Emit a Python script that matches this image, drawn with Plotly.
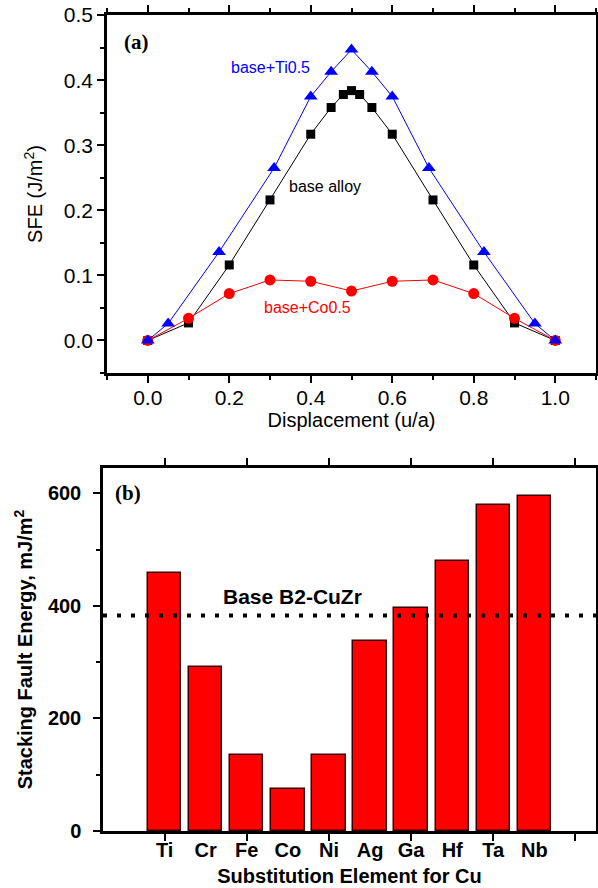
import plotly.graph_objects as go

# ---------- Panel (a) data ----------
base_x = [0.0, 0.1, 0.2, 0.3, 0.4, 0.45, 0.48, 0.5, 0.52, 0.55, 0.6, 0.7, 0.8, 0.9, 1.0]
base_y = [0.0, 0.027, 0.116, 0.216, 0.317, 0.358, 0.378, 0.384, 0.378, 0.358, 0.317, 0.216, 0.116, 0.027, 0.0]

ti_x = [0.0, 0.05, 0.175, 0.31, 0.4, 0.45, 0.5, 0.55, 0.6, 0.69, 0.825, 0.95, 1.0]
ti_y = [0.0, 0.026, 0.136, 0.265, 0.375, 0.413, 0.447, 0.413, 0.375, 0.265, 0.136, 0.026, 0.0]

co_x = [0.0, 0.1, 0.2, 0.3, 0.4, 0.5, 0.6, 0.7, 0.8, 0.9, 1.0]
co_y = [0.0, 0.034, 0.072, 0.093, 0.091, 0.076, 0.091, 0.093, 0.072, 0.034, 0.0]

# ---------- Panel (b) data ----------
elements = ["Ti", "Cr", "Fe", "Co", "Ni", "Ag", "Ga", "Hf", "Ta", "Nb"]
sfe_values = [458, 292, 135, 75, 135, 337, 397, 479, 579, 596]
base_sfe = 383

x_ticks_a = [0.0, 0.2, 0.4, 0.6, 0.8, 1.0]
y_ticks_a = [0.0, 0.1, 0.2, 0.3, 0.4, 0.5]
y_ticks_b = [0, 200, 400, 600]

FONT = "Liberation Sans, Arial, sans-serif"
SERIF = "Liberation Serif, Times New Roman, serif"

# page body margin is removed (see post_script), so the figure fills the window
W, H = 598, 888


def fx(px):
    return px / W


def fy(py):
    return 1 - py / H


fig = go.Figure()

# Panel (a)
fig.add_trace(go.Scatter(x=base_x, y=base_y, mode="lines+markers",
                         line=dict(color="black", width=1),
                         marker=dict(symbol="square", size=9, color="black"),
                         xaxis="x", yaxis="y", cliponaxis=False))
fig.add_trace(go.Scatter(x=co_x, y=co_y, mode="lines+markers",
                         line=dict(color="#ff0000", width=1),
                         marker=dict(symbol="circle", size=11, color="#ff0000"),
                         xaxis="x", yaxis="y", cliponaxis=False))
fig.add_trace(go.Scatter(x=ti_x, y=ti_y, mode="lines+markers",
                         line=dict(color="#0000ff", width=1),
                         marker=dict(symbol="triangle-up", size=12, color="#0000ff"),
                         xaxis="x", yaxis="y", cliponaxis=False))

# Panel (b)
idx = list(range(len(elements)))
fig.add_trace(go.Bar(x=idx, y=sfe_values, width=0.81,
                     marker=dict(color="#ff0000", line=dict(color="#3a0000", width=1.5)),
                     xaxis="x2", yaxis="y2"))
fig.add_trace(go.Scatter(x=[-1.5, 10.5], y=[base_sfe, base_sfe], mode="lines",
                         line=dict(color="black", width=4, dash="4px,10px"),
                         xaxis="x2", yaxis="y2"))

axis_common = dict(showline=True, linecolor="black", linewidth=2.5, mirror="ticks",
                   ticks="outside", tickcolor="black", tickwidth=2, ticklen=7,
                   showgrid=False, zeroline=False, automargin=False)

fig.update_layout(
    width=W, height=H,
    margin=dict(l=0, r=0, t=0, b=0),
    paper_bgcolor="white", plot_bgcolor="white",
    showlegend=False,
    bargap=0,
    xaxis=dict(**axis_common, domain=[fx(107), fx(596)], range=[-0.1, 1.1], anchor="y",
               tickvals=x_ticks_a, ticktext=[f"{v:.1f}" for v in x_ticks_a],
               tickfont=dict(family=FONT, size=21, color="black"),
               ticklabelstandoff=-3,
               minor=dict(dtick=0.1, tick0=0, ticks="outside", ticklen=4, tickwidth=2, tickcolor="black"),
               title=dict(text="Displacement (u/a)", font=dict(family=FONT, size=20, color="black"), standoff=6)),
    yaxis=dict(**axis_common, domain=[fy(373), fy(15)], range=[-0.05, 0.5002], anchor="x",
               tickvals=y_ticks_a, ticktext=[f"{v:.1f}" for v in y_ticks_a],
               tickfont=dict(family=FONT, size=21, color="black"),
               ticklabelstandoff=0, ticklabeloverflow="allow",
               minor=dict(dtick=0.05, tick0=0, ticks="outside", ticklen=4, tickwidth=2, tickcolor="black"),
               title=dict(text="SFE (J/m<sup>2</sup>)", font=dict(family=FONT, size=20, color="black"), standoff=16)),
    xaxis2=dict(**axis_common, domain=[fx(103), fx(596)], range=[-1.5, 10.5], anchor="y2",
                tickvals=[0, 2, 4, 6, 8, 10], showticklabels=False),
    xaxis3=dict(overlaying="x2", anchor="y2", side="bottom", range=[-1.5, 10.5],
                showline=False, showgrid=False, zeroline=False, automargin=False,
                ticks="outside", ticklen=1, tickcolor="rgba(0,0,0,0)",
                tickvals=idx, ticktext=elements,
                tickfont=dict(family=FONT, size=20, color="black", weight="bold"),
                title=dict(text="Substitution Element for Cu",
                           font=dict(family=FONT, size=20, color="black", weight="bold"), standoff=8)),
    yaxis2=dict(**axis_common, domain=[fy(831), fy(468)], range=[0, 645], anchor="x2",
                tickvals=y_ticks_b, ticklabelstandoff=8,
                tickfont=dict(family=FONT, size=20, color="black", weight="bold"),
                minor=dict(dtick=100, tick0=0, ticks="outside", ticklen=4, tickwidth=2, tickcolor="black"),
                title=dict(text="Stacking Fault Energy, mJ/m<sup>2</sup>",
                           font=dict(family=FONT, size=20, color="black", weight="bold"), standoff=10)),
)

# empty trace on xaxis3 so the overlay axis (category labels) renders
fig.add_trace(go.Scatter(x=[None], y=[None], xaxis="x3", yaxis="y2", hoverinfo="skip"))

ann = [
    dict(text="(a)", x=-0.027, y=0.458, xref="x", yref="y",
         font=dict(family=SERIF, size=21, color="black", weight="bold")),
    dict(text="base+Ti0.5", x=0.302, y=0.42, xref="x", yref="y",
         font=dict(family=FONT, size=16, color="#0000ff")),
    dict(text="base alloy", x=0.435, y=0.237, xref="x", yref="y",
         font=dict(family=FONT, size=16, color="black")),
    dict(text="base+Co0.5", x=0.393, y=0.051, xref="x", yref="y",
         font=dict(family=FONT, size=16, color="#ff0000")),
    dict(text="(b)", x=-0.9, y=600, xref="x2", yref="y2",
         font=dict(family=SERIF, size=21, color="black", weight="bold")),
    dict(text="Base B2-CuZr", x=3.12, y=416, xref="x2", yref="y2",
         font=dict(family=FONT, size=21, color="black", weight="bold")),
]
for a in ann:
    a["showarrow"] = False
fig.update_layout(annotations=ann)

fig.write_html("out.html",
               config={"displayModeBar": False},
               post_script="document.body.style.margin='0';document.body.style.overflow='hidden';")
